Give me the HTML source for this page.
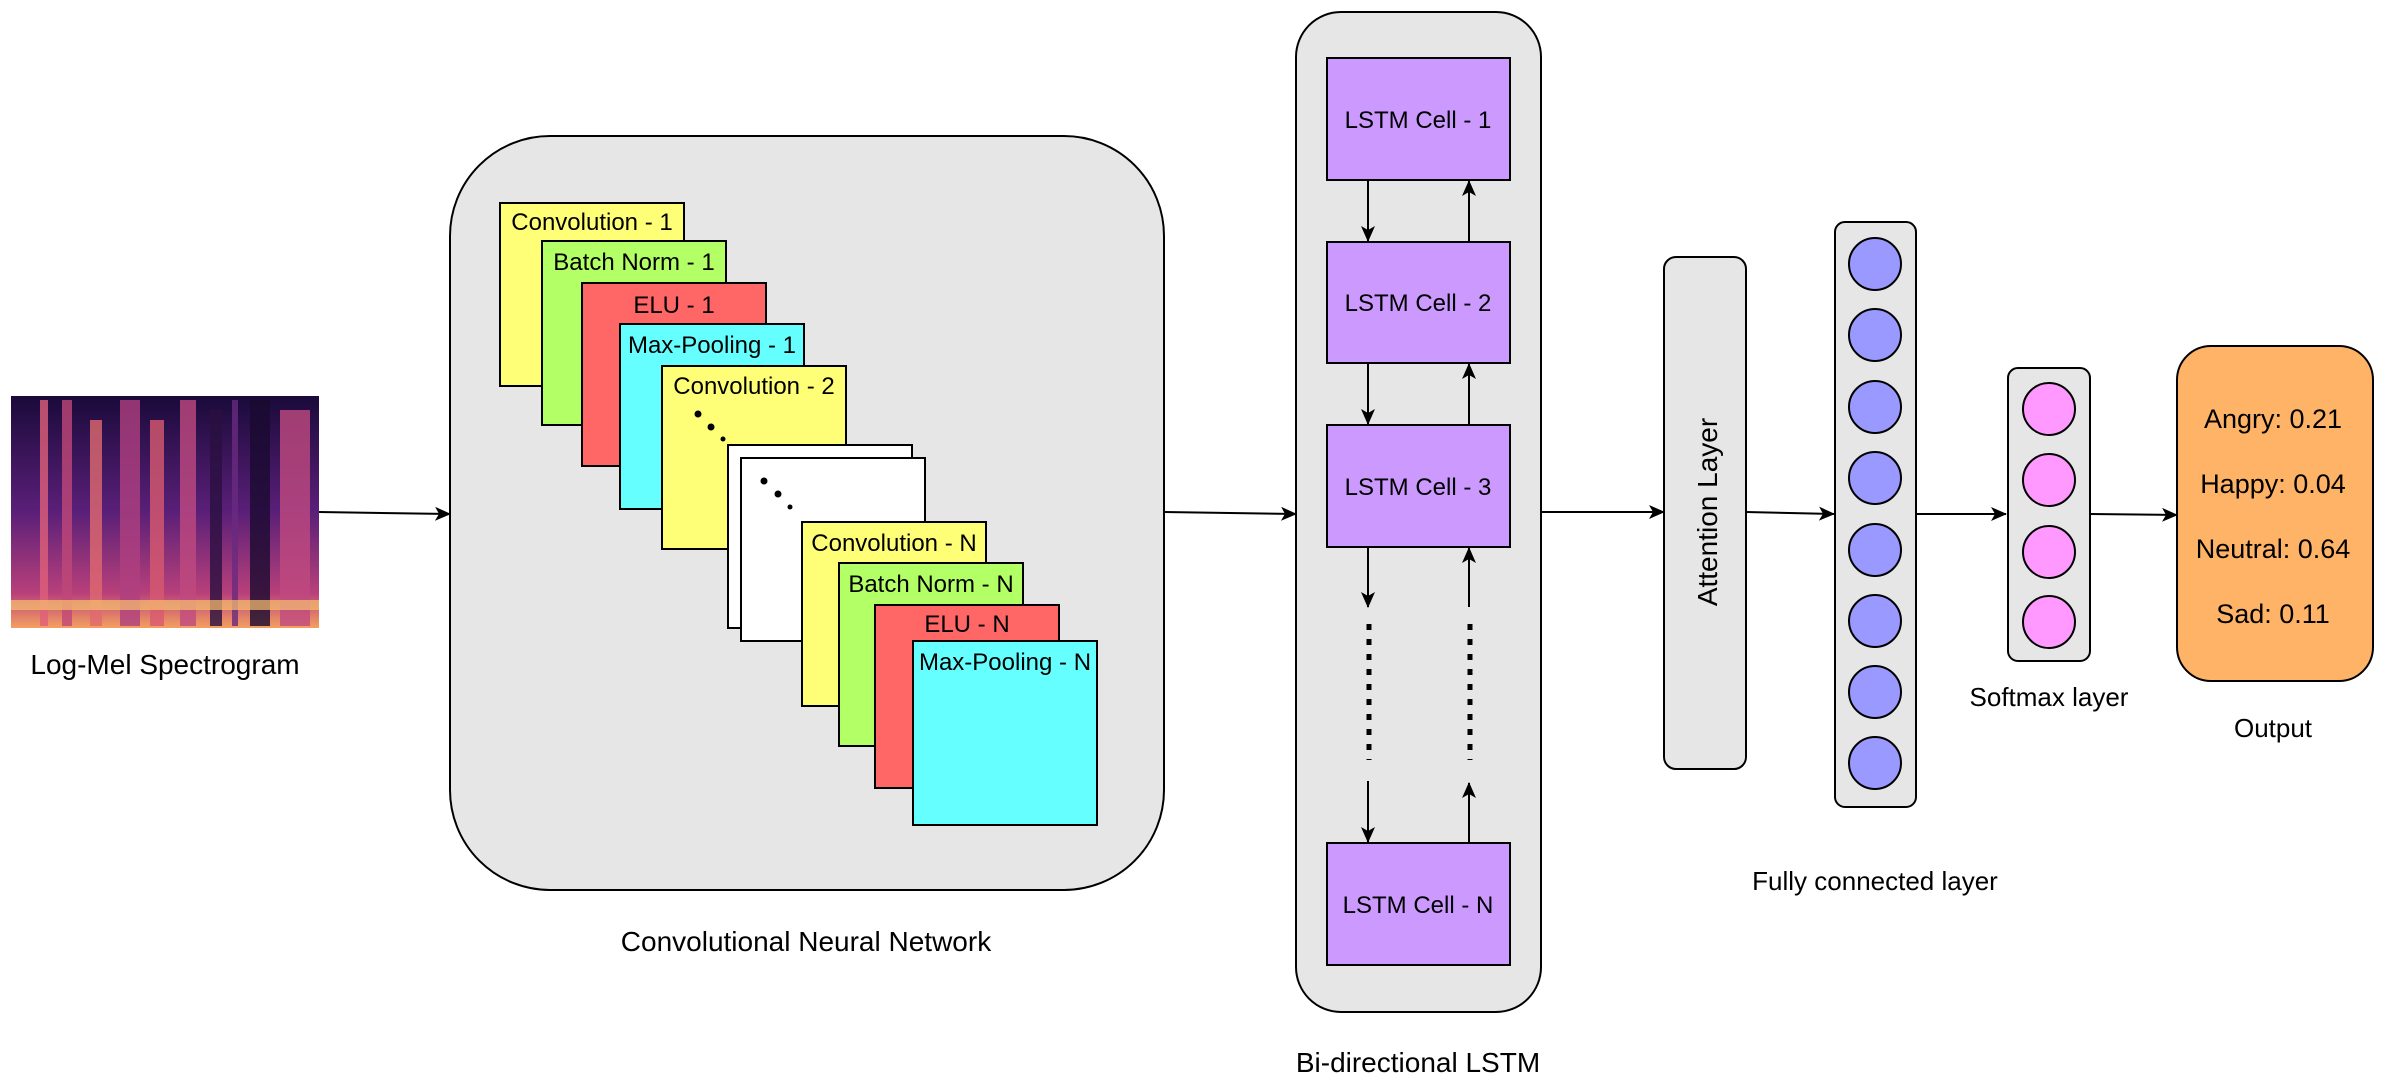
<!DOCTYPE html>
<html><head><meta charset="utf-8"><style>
html,body{margin:0;padding:0;background:#fff;}
svg{display:block;}
text{font-family:"Liberation Sans",sans-serif;fill:#000;}
</style></head><body>
<svg width="2390" height="1088" viewBox="0 0 2390 1088" xmlns="http://www.w3.org/2000/svg">
<defs>
<marker id="ah" markerWidth="16" markerHeight="14" refX="15" refY="7" orient="auto" markerUnits="userSpaceOnUse">
<path d="M0,0 L16,7 L0,14 L4,7 Z" fill="#000"/>
</marker>
<linearGradient id="spec" x1="0" y1="0" x2="0" y2="1">
<stop offset="0" stop-color="#1a0a3a"/><stop offset="0.5" stop-color="#5a1f78"/><stop offset="0.85" stop-color="#b8407a"/><stop offset="1" stop-color="#f4a060"/>
</linearGradient>
</defs>
<!-- spectrogram -->
<rect x="11" y="396" width="308" height="232" fill="url(#spec)"/>
<g opacity="0.8">
<rect x="40" y="400" width="8" height="226" fill="#e0607a"/>
<rect x="62" y="400" width="10" height="226" fill="#c04878"/>
<rect x="90" y="420" width="12" height="206" fill="#e06a70"/>
<rect x="120" y="400" width="20" height="226" fill="#b04080"/>
<rect x="150" y="420" width="14" height="206" fill="#d85a70"/>
<rect x="180" y="400" width="16" height="226" fill="#c04a80"/>
<rect x="210" y="410" width="12" height="216" fill="#2a1040"/>
<rect x="232" y="400" width="6" height="226" fill="#6a2a80"/>
<rect x="250" y="400" width="20" height="226" fill="#1a0a30"/>
<rect x="280" y="410" width="30" height="216" fill="#c04a80"/>
</g>
<rect x="11" y="600" width="308" height="10" fill="#f8c070" opacity="0.7"/>
<text x="165" y="674" font-size="28" text-anchor="middle">Log-Mel Spectrogram</text>
<line x1="319" y1="512" x2="450" y2="514" stroke="#000" stroke-width="2" marker-end="url(#ah)"/>

<!-- CNN -->
<rect x="450" y="136" width="714" height="754" rx="100" fill="#e6e6e6" stroke="#000" stroke-width="2"/>
<g stroke="#000" stroke-width="2" font-size="24">
<rect x="500" y="203" width="184" height="183" fill="#ffff77"/>
<rect x="542" y="241" width="184" height="184" fill="#b3ff66"/>
<rect x="582" y="283" width="184" height="183" fill="#ff6666"/>
<rect x="620" y="324" width="184" height="185" fill="#66ffff"/>
<rect x="662" y="366" width="184" height="183" fill="#ffff77"/>
<rect x="728" y="445" width="184" height="183" fill="#fff"/>
<rect x="741" y="458" width="184" height="183" fill="#fff"/>
<rect x="802" y="522" width="184" height="184" fill="#ffff77"/>
<rect x="839" y="563" width="184" height="183" fill="#b3ff66"/>
<rect x="875" y="605" width="184" height="183" fill="#ff6666"/>
<rect x="913" y="641" width="184" height="184" fill="#66ffff"/>
</g>
<g font-size="24" text-anchor="middle">
<text x="592" y="230">Convolution - 1</text>
<text x="634" y="270">Batch Norm - 1</text>
<text x="674" y="313">ELU - 1</text>
<text x="712" y="353">Max-Pooling - 1</text>
<text x="754" y="394">Convolution - 2</text>
<text x="894" y="551">Convolution - N</text>
<text x="931" y="592">Batch Norm - N</text>
<text x="967" y="632">ELU - N</text>
<text x="1005" y="670">Max-Pooling - N</text>
</g>
<g fill="#000">
<circle cx="698" cy="414" r="3.5"/><circle cx="711" cy="427" r="3.5"/><circle cx="723" cy="439" r="2.5"/>
<circle cx="764" cy="481" r="3.5"/><circle cx="778" cy="494" r="3.5"/><circle cx="790" cy="507" r="2.5"/>
</g>
<text x="806" y="951" font-size="28" text-anchor="middle">Convolutional Neural Network</text>
<line x1="1164" y1="512" x2="1296" y2="514" stroke="#000" stroke-width="2" marker-end="url(#ah)"/>

<!-- LSTM -->
<rect x="1296" y="12" width="245" height="1000" rx="45" fill="#e6e6e6" stroke="#000" stroke-width="2"/>
<g fill="#cc99ff" stroke="#000" stroke-width="2">
<rect x="1327" y="58" width="183" height="122"/>
<rect x="1327" y="242" width="183" height="121"/>
<rect x="1327" y="425" width="183" height="122"/>
<rect x="1327" y="843" width="183" height="122"/>
</g>
<g font-size="24" text-anchor="middle">
<text x="1418" y="128">LSTM Cell - 1</text>
<text x="1418" y="311">LSTM Cell - 2</text>
<text x="1418" y="495">LSTM Cell - 3</text>
<text x="1418" y="913">LSTM Cell - N</text>
</g>
<g stroke="#000" stroke-width="2" marker-end="url(#ah)">
<line x1="1368" y1="180" x2="1368" y2="241"/>
<line x1="1469" y1="242" x2="1469" y2="181"/>
<line x1="1368" y1="363" x2="1368" y2="424"/>
<line x1="1469" y1="425" x2="1469" y2="364"/>
<line x1="1368" y1="547" x2="1368" y2="607"/>
<line x1="1469" y1="607" x2="1469" y2="548"/>
<line x1="1368" y1="781" x2="1368" y2="842"/>
<line x1="1469" y1="843" x2="1469" y2="783"/>
</g>
<g stroke="#000" stroke-width="5" stroke-dasharray="6,9">
<line x1="1369" y1="624" x2="1369" y2="760"/>
<line x1="1470" y1="624" x2="1470" y2="760"/>
</g>
<text x="1418" y="1072" font-size="28" text-anchor="middle">Bi-directional LSTM</text>
<line x1="1541" y1="512" x2="1664" y2="512" stroke="#000" stroke-width="2" marker-end="url(#ah)"/>

<!-- Attention -->
<rect x="1664" y="257" width="82" height="512" rx="12" fill="#e6e6e6" stroke="#000" stroke-width="2"/>
<text x="0" y="0" font-size="28" text-anchor="middle" transform="translate(1717,512) rotate(-90)">Attention Layer</text>
<line x1="1746" y1="512" x2="1834" y2="514" stroke="#000" stroke-width="2" marker-end="url(#ah)"/>

<!-- FC -->
<rect x="1835" y="222" width="81" height="585" rx="10" fill="#e6e6e6" stroke="#000" stroke-width="2"/>
<g fill="#9999ff" stroke="#000" stroke-width="2">
<circle cx="1875" cy="264" r="26"/><circle cx="1875" cy="335" r="26"/><circle cx="1875" cy="407" r="26"/><circle cx="1875" cy="478" r="26"/>
<circle cx="1875" cy="550" r="26"/><circle cx="1875" cy="621" r="26"/><circle cx="1875" cy="692" r="26"/><circle cx="1875" cy="763" r="26"/>
</g>
<text x="1875" y="890" font-size="26" text-anchor="middle">Fully connected layer</text>
<line x1="1916" y1="514" x2="2006" y2="514" stroke="#000" stroke-width="2" marker-end="url(#ah)"/>

<!-- Softmax -->
<rect x="2008" y="368" width="82" height="293" rx="10" fill="#e6e6e6" stroke="#000" stroke-width="2"/>
<g fill="#ff99ff" stroke="#000" stroke-width="2">
<circle cx="2049" cy="409" r="26"/><circle cx="2049" cy="480" r="26"/><circle cx="2049" cy="552" r="26"/><circle cx="2049" cy="622" r="26"/>
</g>
<text x="2049" y="706" font-size="26" text-anchor="middle">Softmax layer</text>
<line x1="2090" y1="514" x2="2177" y2="515" stroke="#000" stroke-width="2" marker-end="url(#ah)"/>

<!-- Output -->
<rect x="2177" y="346" width="196" height="335" rx="34" fill="#ffb366" stroke="#000" stroke-width="2"/>
<g font-size="27" text-anchor="middle">
<text x="2273" y="428">Angry: 0.21</text>
<text x="2273" y="493">Happy: 0.04</text>
<text x="2273" y="558">Neutral: 0.64</text>
<text x="2273" y="623">Sad: 0.11</text>
</g>
<text x="2273" y="737" font-size="26" text-anchor="middle">Output</text>
</svg>
</body></html>
